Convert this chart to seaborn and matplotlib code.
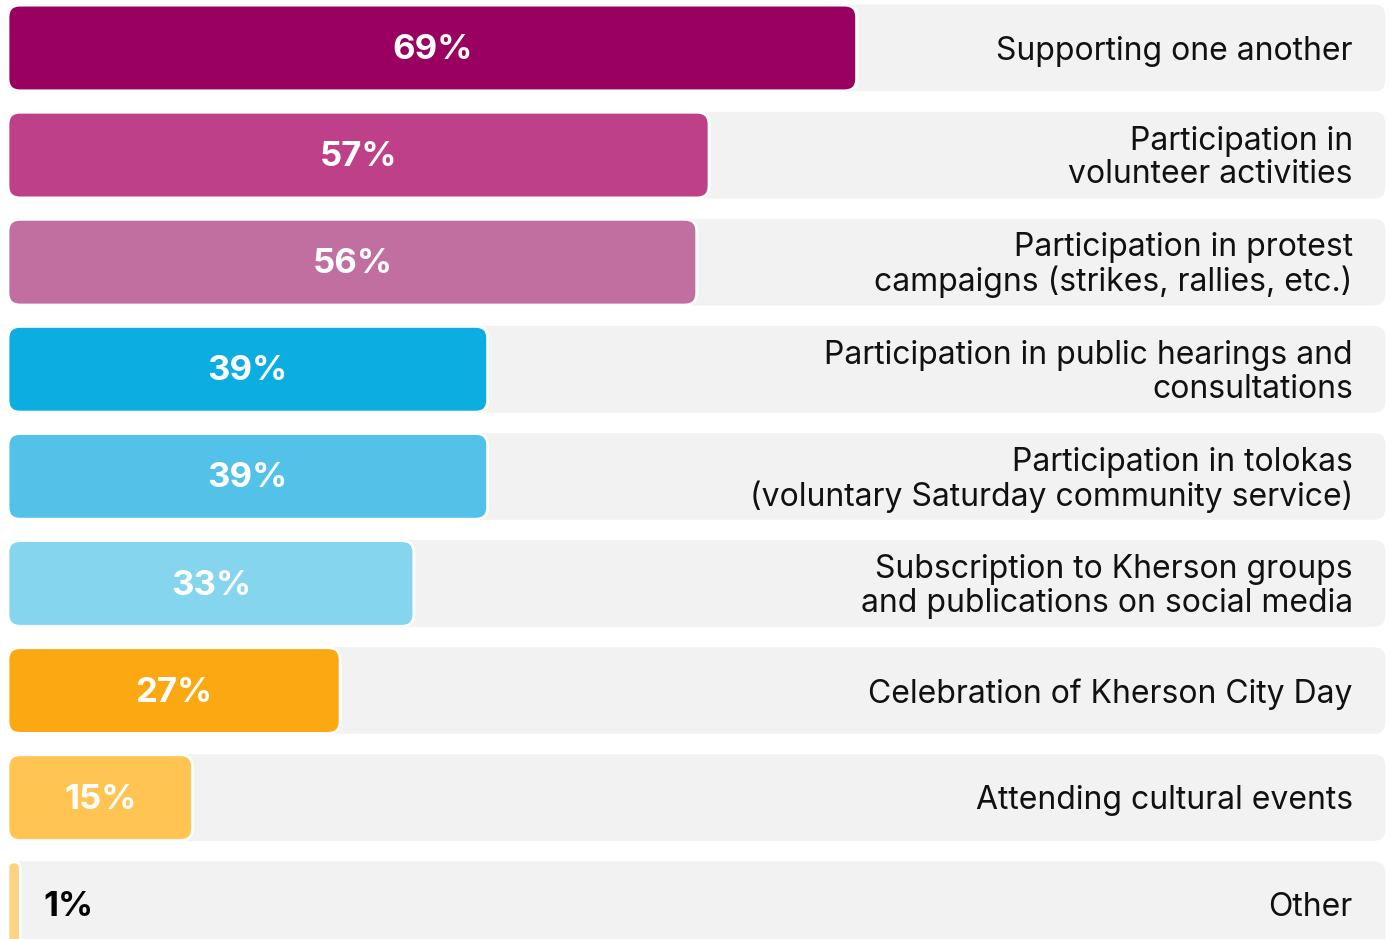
import pandas as pd
import numpy as np
import matplotlib
matplotlib.use("Agg")
import matplotlib.pyplot as plt
import seaborn as sns
from matplotlib.patches import FancyBboxPatch

# data
categories = [
    "Supporting one another",
    "Participation in\nvolunteer activities",
    "Participation in protest\ncampaigns (strikes, rallies, etc.)",
    "Participation in public hearings and\nconsultations",
    "Participation in tolokas\n(voluntary Saturday community service)",
    "Subscription to Kherson groups\nand publications on social media",
    "Celebration of Kherson City Day",
    "Attending cultural events",
    "Other",
]
values = [69, 57, 56, 39, 39, 33, 27, 15, 1]
colors = ["#990060", "#BD4089", "#C06FA0", "#0CADE0", "#53C2E8",
          "#85D5EF", "#FCA813", "#FFC452", "#FFD182"]
track_max = 112

sns.set_theme(style="white")
plt.rcParams["font.family"] = ["Inter", "DejaVu Sans"]

df = pd.DataFrame({"category": categories, "value": values})
df["track"] = track_max

fig = plt.figure(figsize=(13.91, 9.39), dpi=100)
ax = fig.add_axes([0, 0, 1, 1])

# grey tracks first, then the coloured bars
sns.barplot(data=df, x="track", y="category", color="#F2F2F2",
            saturation=1, orient="h", width=0.81, ax=ax)
n_track = len(ax.patches)
sns.barplot(data=df, x="value", y="category", hue="category",
            palette=colors, saturation=1, orient="h", width=0.80,
            legend=False, ax=ax)

ax.set_xlim(-0.65, 112.45)
ax.set_ylim(8.32, -0.448)

# swap square bars for rounded ones
px_x = 12.3
px_y = 107.1
radius_px = 12
old = list(ax.patches)
for i, p in enumerate(old):
    x, y = p.get_x(), p.get_y()
    w, h = p.get_width(), p.get_height()
    fc = p.get_facecolor()
    p.remove()
    r = min(radius_px / px_x, w / 2)
    ma = (radius_px / px_y) / (radius_px / px_x)
    is_track = i < n_track
    box = FancyBboxPatch((x, y), w, h,
                         boxstyle=f"round,pad=0,rounding_size={r}",
                         mutation_aspect=ma, facecolor=fc,
                         edgecolor="none" if is_track else "white",
                         linewidth=0 if is_track else 2.0,
                         zorder=1 if is_track else 2)
    ax.add_patch(box)

# labels
for i, (cat, val) in enumerate(zip(categories, values)):
    ax.text(109.35, i + 0.03, cat, ha="right", va="center", ma="right",
            fontsize=23, color="#111111", linespacing=1.1, zorder=3)
    if val >= 5:
        ax.text(val / 2, i + 0.02, f"{val}%", ha="center", va="center",
                fontsize=25, fontweight="bold", color="white", zorder=3)
    else:
        ax.text(val + 1.9, i + 0.02, f"{val}%", ha="left", va="center",
                fontsize=25, fontweight="bold", color="black", zorder=3)

ax.set_xlabel("")
ax.set_ylabel("")
ax.axis("off")

plt.savefig("out.png", dpi=100)
plt.close()
